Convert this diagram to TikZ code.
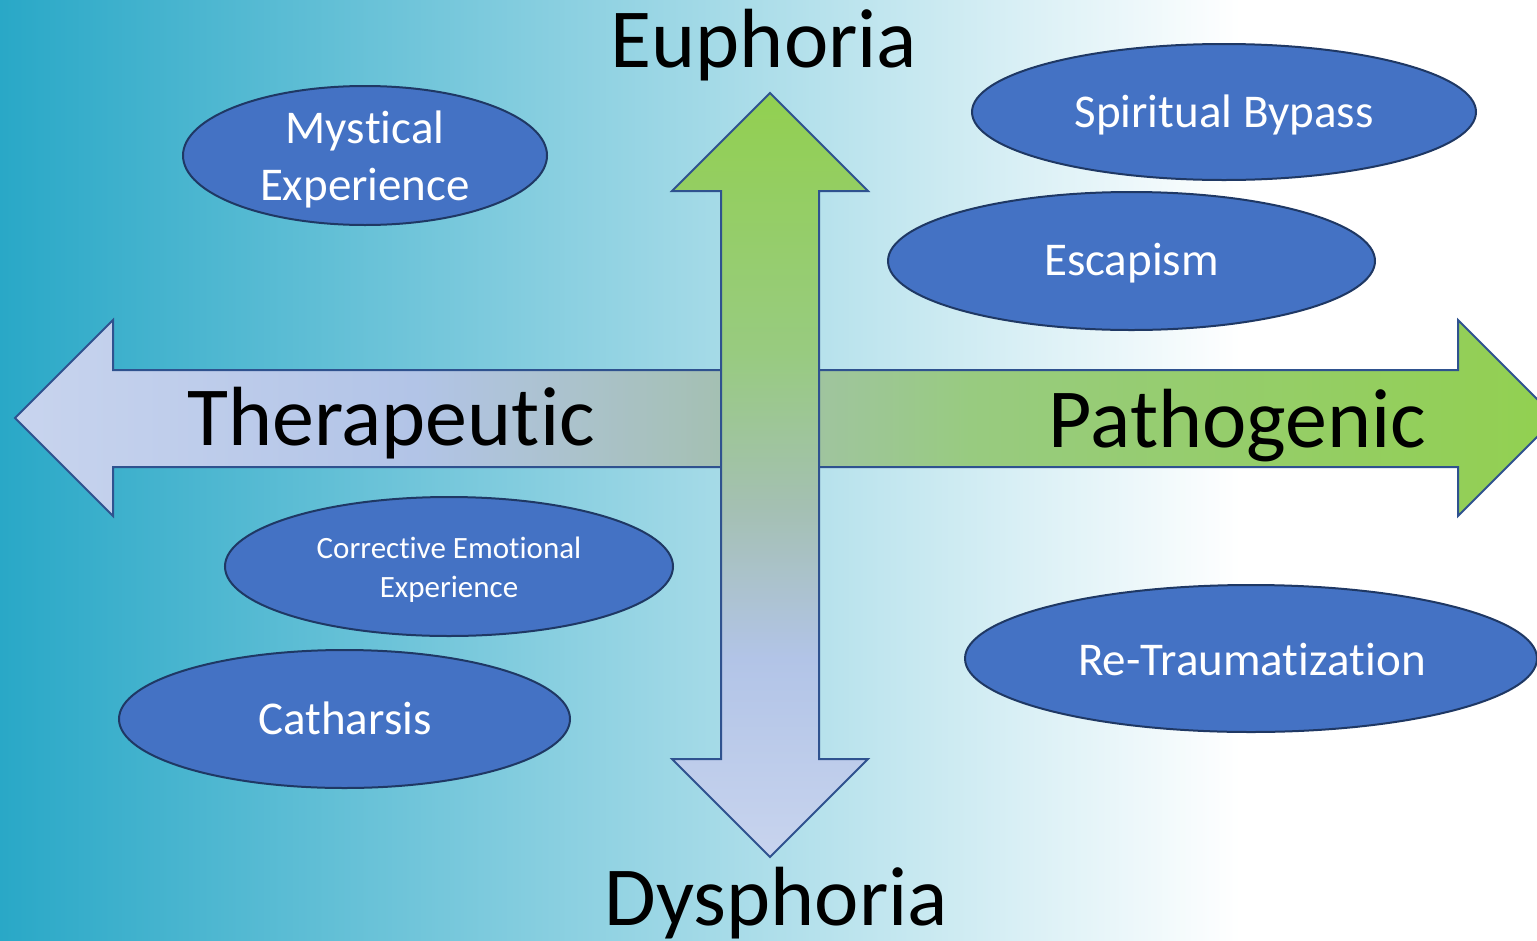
\documentclass[tikz,border=0pt]{standalone}
\usepackage{fontspec}
\setmainfont{Carlito}[Ligatures={NoCommon,NoRequired},Contextuals=NoAlternate]
\usetikzlibrary{shapes.geometric}
\newcommand\nolig{\kern0pt }
\definecolor{bgL}{RGB}{41,168,199}
\definecolor{lav}{RGB}{200,212,238}
\definecolor{lavB}{RGB}{178,196,231}
\definecolor{midg}{RGB}{164,192,178}
\definecolor{grnL}{RGB}{152,203,128}
\definecolor{grn}{RGB}{146,208,80}
\definecolor{arrowline}{RGB}{47,82,143}
\definecolor{blobfill}{RGB}{68,114,196}
\definecolor{blobline}{RGB}{31,56,100}
\pgfdeclarehorizontalshading{hshade}{100bp}{color(0bp)=(lav); color(25bp)=(lav); color(38bp)=(lavB); color(48bp)=(midg); color(56bp)=(grnL); color(75bp)=(grn); color(100bp)=(grn)}
\pgfdeclareverticalshading{vshade}{100bp}{color(0bp)=(lav); color(25bp)=(lav); color(38bp)=(lavB); color(48bp)=(midg); color(58bp)=(grnL); color(75bp)=(grn); color(100bp)=(grn)}
\begin{document}
\begin{tikzpicture}[x=1pt,y=-1pt,
 blob/.style={ellipse, draw=blobline, line width=2pt, fill=blobfill, inner sep=0pt},
 bigtxt/.style={font=\fontsize{84}{100}\selectfont, anchor=base, inner sep=0pt},
 btxt/.style={font=\fontsize{47}{56}\selectfont, text=white, anchor=base, inner sep=0pt},
 stxt/.style={font=\fontsize{31}{38}\selectfont, text=white, anchor=base, inner sep=0pt},
 arr/.style={draw=arrowline, line width=2pt, line join=miter}]
\useasboundingbox (0,0) rectangle (1537,940);
\clip (0,0) rectangle (1537,940);
\shade[left color=bgL, right color=white] (0,0) rectangle (1240,940);
\fill[white] (1239,0) rectangle (1537,940);
% horizontal double arrow
\shadedraw[arr, shading=hshade]
  (15,418) -- (113,320) -- (113,370) -- (1458,370) -- (1458,320) -- (1556,418)
  -- (1458,516) -- (1458,467) -- (113,467) -- (113,516) -- cycle;
% vertical double arrow
\shadedraw[arr, shading=vshade]
  (770,93) -- (868,191) -- (819,191) -- (819,759) -- (868,759) -- (770,857)
  -- (672,759) -- (721,759) -- (721,191) -- (672,191) -- cycle;
% ellipses
\node[blob, minimum width=364pt, minimum height=139pt] (mys) at (365,155.5) {};
\node[blob, minimum width=504pt, minimum height=136pt] (spb) at (1224,112) {};
\node[blob, minimum width=487pt, minimum height=138pt] (esc) at (1131.5,261) {};
\node[blob, minimum width=448pt, minimum height=139pt] (cee) at (449,566.5) {};
\node[blob, minimum width=451pt, minimum height=138pt] (cat) at (344.5,719) {};
\node[blob, minimum width=572pt, minimum height=147pt] (ret) at (1251,658.5) {};
% ellipse texts
\node[btxt] (mysA) at (365,143) {Mys\nolig t\nolig i\nolig cal};
\node[btxt] (mysB) at (365,200) {Experience};
\node[btxt] (spbT) at (1224,127) {Spiritual Bypass};
\node[btxt] (escT) at (1131.5,275) {Escapism};
\node[stxt] (ceeA) at (449,558) {Correc\nolig t\nolig ive Emo\nolig t\nolig ional};
\node[stxt] (ceeB) at (449,597) {Experience};
\node[btxt] (catT) at (345,734) {Catharsis};
\node[btxt] (retT) at (1252,675) {Re-Traumatiza\nolig t\nolig ion};
% axis labels
\node[bigtxt] (eup) at (764,67) {Euphoria};
\node[bigtxt] (dys) at (776.5,925) {Dysphoria};
\node[bigtxt] (ther) at (391,445) {Therapeu\nolig t\nolig ic};
\node[bigtxt] (path) at (1237.5,447) {Pathogenic};
\end{tikzpicture}
\end{document}
